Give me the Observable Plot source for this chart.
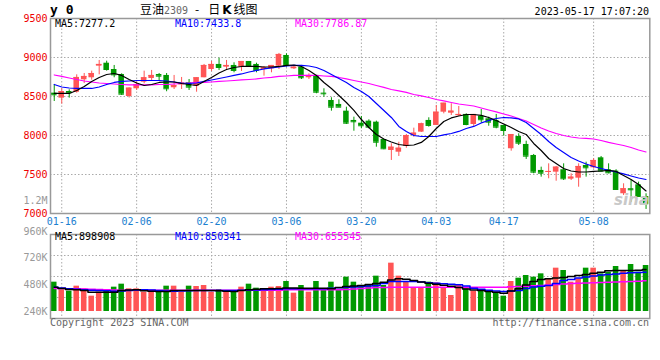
<!DOCTYPE html>
<html><head><meta charset="utf-8">
<script src="https://cdn.jsdelivr.net/npm/d3@7"></script>
<script src="https://cdn.jsdelivr.net/npm/@observablehq/plot@0.6"></script>
<style>
body{margin:0;background:#fff;}
#wrap{position:relative;width:660px;height:360px;overflow:hidden;background:#fff;font-family:"DejaVu Sans Mono",monospace;font-size:10px;}
.t{position:absolute;white-space:nowrap;line-height:1;}
#main,#vol{position:absolute;left:0;}
#main{top:0;}
#vol{top:190px;}
</style></head><body>
<div id="wrap">
<div id="main"></div><div id="vol"></div>
<div class="t" style="left:50px;top:3px;font-weight:bold;font-size:13px;color:#000;">y 0</div>
<div class="t" style="left:140px;top:3px;font-family:'Noto Sans CJK SC',sans-serif;font-size:12px;color:#000;">豆油<span style="font-family:'DejaVu Sans Mono',monospace;font-size:10px;color:#666;">2309</span><span style="margin-left:7px;">-</span><span style="margin-left:9px;">日</span><b style="font-family:'DejaVu Sans',sans-serif;margin:0 2px;">K</b>线图</div>
<div class="t" style="right:11px;top:7px;color:#000;">2023-05-17 17:07:20</div>
<div class="t" style="left:55px;top:18.5px;color:#000;">MA5:7277.2</div>
<div class="t" style="left:175px;top:18.5px;color:#0000ff;">MA10:7433.8</div>
<div class="t" style="left:295px;top:18.5px;color:#ff00ff;">MA30:7786.87</div>
<div class="t" style="left:55px;top:232px;color:#000;">MA5:898908</div>
<div class="t" style="left:175px;top:232px;color:#0000ff;">MA10:850341</div>
<div class="t" style="left:295px;top:232px;color:#ff00ff;">MA30:655545</div>
<div class="t" style="left:50px;top:318px;color:#666;">Copyright 2023 SINA.COM</div>
<div class="t" style="right:11px;top:318px;color:#666;">http://finance.sina.com.cn</div>
<div class="t" style="left:614px;top:193px;color:#c8c8c8;font-family:'DejaVu Sans',sans-serif;font-style:italic;font-weight:bold;font-size:15px;">sina</div>
</div>
<script>
const dates = ["01-13","01-16","01-17","01-18","01-19","01-20","01-30","01-31","02-01","02-02","02-03","02-06","02-07","02-08","02-09","02-10","02-13","02-14","02-15","02-16","02-17","02-20","02-21","02-22","02-23","02-24","02-27","02-28","03-01","03-02","03-03","03-06","03-07","03-08","03-09","03-10","03-13","03-14","03-15","03-16","03-17","03-20","03-21","03-22","03-23","03-24","03-27","03-28","03-29","03-30","03-31","04-03","04-04","04-06","04-07","04-10","04-11","04-12","04-13","04-14","04-17","04-18","04-19","04-20","04-21","04-24","04-25","04-26","04-27","04-28","05-04","05-05","05-08","05-09","05-10","05-11","05-12","05-15","05-16","05-17"];
const tickDates = ["01-16","02-06","02-20","03-06","03-20","04-03","04-17","05-08"];
const priceTicks = [7000,7500,8000,8500,9000,9500];
const volTicks = [240,480,720,960];
const volTopTick = [1200];

const open = [8543,8479,8564,8555,8714,8740,8889,8927,8846,8782,8500,8599,8684,8731,8782,8770,8612,8648,8676,8632,8740,8846,8911,8876,8898,8876,8949,8911,8846,8855,8889,9026,8855,8876,8740,8770,8543,8449,8398,8312,8193,8158,8184,8171,7949,7808,7786,7859,8000,8043,8193,8129,8299,8286,8253,8270,8141,8248,8214,8193,8129,7830,7987,7885,7744,7552,7526,7530,7561,7440,7453,7616,7586,7714,7561,7543,7253,7317,7368,7218];
const high = [8650,8599,8586,8778,8795,8825,8962,8953,8898,8791,8610,8684,8825,8834,8795,8795,8770,8744,8718,8740,8911,8949,8991,8962,8932,8949,8949,8927,8885,8898,9052,9047,8885,8898,8791,8770,8599,8484,8458,8363,8235,8244,8201,8184,7949,7894,7914,8013,8094,8158,8227,8385,8414,8407,8372,8278,8270,8334,8235,8270,8129,8013,8022,7927,7757,7594,7637,7603,7637,7509,7637,7658,7702,7731,7637,7561,7381,7423,7402,7253];
const low = [8436,8402,8479,8543,8667,8709,8778,8825,8740,8513,8481,8577,8663,8705,8696,8561,8590,8590,8577,8555,8740,8821,8834,8846,8804,8821,8885,8804,8761,8804,8846,8876,8846,8718,8718,8535,8491,8312,8358,8141,8055,8086,8086,7850,7817,7680,7731,7837,7978,8039,8107,8129,8278,8257,8244,8125,8116,8163,8119,8086,7991,7799,7872,7693,7509,7466,7445,7414,7423,7423,7337,7466,7573,7530,7509,7304,7231,7145,7218,7052];
const close = [8522,8564,8548,8744,8757,8795,8911,8846,8778,8530,8607,8654,8740,8770,8761,8599,8641,8673,8620,8740,8898,8911,8872,8898,8834,8949,8885,8834,8868,8898,9039,8898,8876,8740,8770,8555,8535,8363,8363,8158,8176,8125,8107,7914,7830,7850,7837,8000,8030,8150,8129,8299,8414,8312,8270,8141,8270,8202,8171,8107,8064,8013,7902,7735,7530,7517,7539,7594,7445,7466,7603,7586,7680,7543,7522,7308,7317,7304,7218,7125];
const ma5 = [8539,8539,8539,8577,8628,8693,8744,8782,8795,8770,8718,8673,8641,8654,8680,8686,8686,8667,8654,8641,8693,8744,8802,8846,8872,8885,8885,8885,8878,8878,8885,8898,8904,8885,8834,8770,8680,8603,8513,8423,8321,8205,8103,8013,7955,7917,7885,7872,7878,7911,7987,8090,8180,8225,8250,8269,8269,8257,8231,8193,8148,8103,8052,8013,7898,7808,7705,7641,7577,7545,7532,7532,7539,7545,7552,7539,7487,7436,7372,7289];
const ma10 = [8654,8622,8609,8603,8603,8603,8622,8654,8680,8693,8699,8705,8705,8705,8705,8699,8686,8673,8667,8673,8693,8712,8731,8750,8770,8789,8814,8834,8853,8866,8878,8891,8898,8898,8891,8872,8834,8782,8731,8680,8616,8565,8500,8411,8321,8231,8116,8052,8000,7987,7987,7987,8007,8026,8052,8090,8116,8161,8193,8218,8231,8225,8212,8167,8090,8013,7923,7846,7782,7718,7673,7635,7603,7577,7552,7532,7507,7481,7455,7436];
const ma30 = [8776,8757,8737,8718,8699,8686,8673,8667,8660,8654,8648,8648,8648,8648,8654,8654,8660,8667,8673,8680,8680,8686,8693,8699,8705,8712,8718,8725,8737,8744,8757,8763,8770,8770,8770,8770,8763,8757,8744,8725,8705,8686,8667,8641,8616,8590,8571,8552,8526,8507,8487,8462,8443,8423,8404,8391,8378,8353,8327,8302,8276,8250,8218,8186,8141,8096,8058,8026,8000,7981,7968,7962,7955,7936,7911,7891,7872,7846,7814,7789];
const vol = [504,435,423,468,444,378,414,429,459,486,444,444,414,423,414,468,468,414,468,465,474,414,438,429,423,459,486,450,438,459,465,510,405,474,414,510,444,504,438,549,504,474,474,558,474,675,558,510,450,450,504,498,450,384,474,444,423,423,423,405,378,510,540,564,549,579,534,630,609,504,534,630,630,579,594,645,609,663,594,654];
const vma5 = [459,447,438,435,429,414,414,414,414,429,434,435,426,423,420,420,429,429,429,429,429,429,426,423,420,429,435,441,444,444,447,452,452,450,450,450,450,444,456,465,470,474,483,492,504,524,534,531,519,506,495,486,477,468,456,443,434,429,420,414,405,425,444,479,510,528,534,542,546,555,564,573,585,594,606,609,609,609,612,618];
const vma10 = [459,452,444,441,435,432,429,426,423,425,429,434,435,434,429,425,423,425,426,429,429,429,429,429,429,431,433,434,435,438,441,444,444,444,444,444,444,450,453,459,460,465,470,474,492,510,510,510,510,506,498,495,489,485,480,470,450,441,432,425,420,425,429,447,460,468,474,492,519,528,542,551,560,569,573,578,585,588,591,594];
const vma30 = [447,447,444,444,443,441,438,435,434,432,432,432,432,432,432,432,432,432,432,432,432,432,432,432,432,432,432,432,432,432,432,435,435,435,435,435,435,435,435,438,443,447,452,456,456,459,459,459,459,459,459,459,459,459,459,459,459,459,459,459,459,462,465,468,471,474,479,483,488,492,495,497,498,501,503,505,507,510,513,516];

const UP = "#ff5555", DOWN = "#009900";
const GRID = {stroke: "#aaaaaa", strokeDasharray: "1.5,2"};
const rows = dates.map((d, i) => ({
  date: d, open: open[i], high: high[i], low: low[i], close: close[i],
  ma5: ma5[i], ma10: ma10[i], ma30: ma30[i],
  vol: vol[i], vma5: vma5[i], vma10: vma10[i], vma30: vma30[i],
  color: close[i] >= open[i] ? UP : DOWN
}));
const xBand = {type: "band", domain: dates, paddingInner: 0.26, paddingOuter: 0.13};
const font = {background: "transparent", fontFamily: "DejaVu Sans Mono, monospace", fontSize: "10px", overflow: "visible"};

const main = Plot.plot({
  width: 660, height: 230,
  marginLeft: 50, marginRight: 10.7, marginTop: 18, marginBottom: 17,
  x: xBand,
  y: {domain: [7000, 9500]},
  color: {type: "identity"},
  style: font,
  marks: [
    Plot.ruleY(priceTicks.slice(1, -1), GRID),
    Plot.ruleX(tickDates, GRID),
    Plot.ruleX(rows, {x: "date", y1: "low", y2: "high", stroke: "color"}),
    Plot.barY(rows, {x: "date", y1: "open", y2: "close", fill: "color"}),
    Plot.tickY(rows, {x: "date", y: "close", stroke: "color"}),
    Plot.line(rows, {x: "date", y: "ma30", stroke: "#ff00ff", strokeWidth: 1.2}),
    Plot.line(rows, {x: "date", y: "ma10", stroke: "#0000ff", strokeWidth: 1.2}),
    Plot.line(rows, {x: "date", y: "ma5", stroke: "#000000", strokeWidth: 1.2}),
    Plot.frame({stroke: "#999", strokeWidth: 1.5}),
    Plot.axisY(priceTicks, {tickSize: 0, tickPadding: 3, fill: "#ee0000", label: null, tickFormat: d => String(d)}),
    Plot.axisX(tickDates, {tickSize: 0, tickPadding: 4, fill: "#1a80d0", label: null})
  ]
});
document.getElementById("main").append(main);

const volDomain = [177, 933];
const volGrid = d3.range(1, 4).map(i => volDomain[0] + i * (volDomain[1] - volDomain[0]) / 4);
const volFmt = d => d >= 1000 ? (d / 1000) + "M" : d + "K";
const volPlot = Plot.plot({
  width: 660, height: 170,
  marginLeft: 50, marginRight: 10.7, marginTop: 44, marginBottom: 42,
  x: xBand,
  y: {domain: volDomain},
  color: {type: "identity"},
  style: font,
  marks: [
    Plot.ruleY(volGrid, GRID),
    Plot.ruleX(tickDates, GRID),
    Plot.barY(rows, {x: "date", y1: volTicks[0], y2: "vol", fill: "color"}),
    Plot.line(rows, {x: "date", y: "vma30", stroke: "#ff00ff", strokeWidth: 1.5, curve: "step"}),
    Plot.line(rows, {x: "date", y: "vma10", stroke: "#0000ff", strokeWidth: 1.5, curve: "step"}),
    Plot.line(rows, {x: "date", y: "vma5", stroke: "#000000", strokeWidth: 1.5, curve: "step"}),
    Plot.frame({stroke: "#999", strokeWidth: 1.5}),
    Plot.axisY(volTicks, {tickSize: 0, tickPadding: 3, fill: "#999", label: null, tickFormat: volFmt}),
    Plot.axisY(volTopTick, {tickSize: 0, tickPadding: 3, fill: "#999", label: null, tickFormat: volFmt, dy: -4.5}),
    Plot.axisX({ticks: [], label: null})
  ]
});
document.getElementById("vol").append(volPlot);
</script>
</body></html>
